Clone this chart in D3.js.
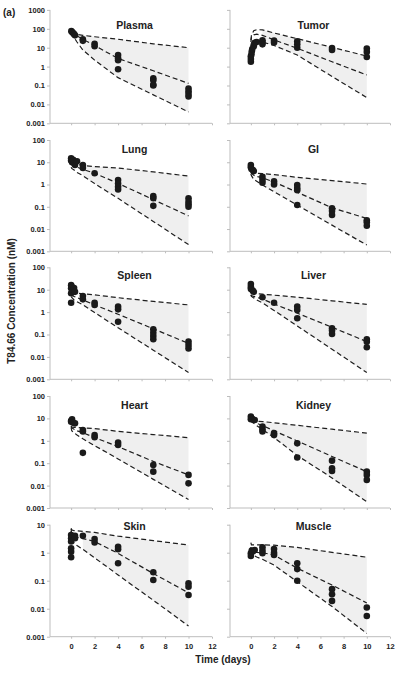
<!DOCTYPE html>
<html><head><meta charset="utf-8">
<script src="https://cdn.jsdelivr.net/npm/d3@7"></script>
<style>body{margin:0;background:#fff}svg{display:block}text{font-family:"Liberation Sans",Arial,sans-serif;font-weight:bold;fill:#222}</style>
</head><body><div id="chart"></div>
<script>
// ---------- DATA ----------
const tissues = ["Plasma","Tumor","Lung","GI","Spleen","Liver","Heart","Kidney","Skin","Muscle"];
const xTicks = [0,2,4,6,8,10,12];
const yTickLabelsRow1 = ["1000","100","10","1","0.1","0.01","0.001"];
const yTickLabelsMid = ["100","10","1","0.1","0.01","0.001"];
const yTickLabelsRow5 = ["10","1","0.1","0.01","0.001"];
const curveTimes = [0, 0.05, 0.25, 0.5, 1, 2, 4, 7, 10];

const plasmaUpper  = [70, 65, 55, 50, 45, 38, 28, 16, 10];
const plasmaMedian = [70, 65, 52, 42, 28, 13, 2.7, 0.6, 0.13];
const plasmaLower  = [65, 55, 35, 20, 7.6, 2.2, 0.26, 0.032, 0.004];
const plasmaObs = [[0.02,75],[0.08,68],[0.17,60],[0.25,52],[0.33,45],[1,28],[1,23],[2,16],[2,12],[4,4.1],[4,2.75],[4,2.2],[4,0.72],[7,0.24],[7,0.19],[7,0.11],[7,0.1],[10,0.07],[10,0.05],[10,0.036],[10,0.026]];

const tumorUpper  = [25, 45, 80, 90, 88, 60, 30, 10.5, 3.6];
const tumorMedian = [20, 35, 48, 52, 45, 26, 9.3, 1.8, 0.36];
const tumorLower  = [12, 18, 22, 22, 20, 13, 4.1, 0.3, 0.023];
const tumorObs = [[0,1.8],[0,2.5],[0,3.5],[0.05,4.5],[0.08,6.5],[0.12,8.5],[0.25,12],[0.33,18],[0.5,20],[1,25],[1,20],[1,15],[2,24],[2,19],[4,22],[4,15],[4,10],[7,9.5],[7,7.5],[10,9],[10,6],[10,3.2]];

const lungUpper  = [9, 8.8, 8.4, 8, 7.2, 6.4, 5.5, 3.7, 2.4];
const lungMedian = [9, 8.5, 7.2, 6, 4.8, 3.2, 1.13, 0.21, 0.039];
const lungLower  = [6, 5.3, 4.5, 3.5, 2.5, 1.1, 0.24, 0.022, 0.002];
const lungObs = [[0,15],[0,12],[0.08,10],[0.17,13],[0.25,9],[0.33,7.5],[0.5,11],[1,7.5],[1,5.5],[2,3.2],[4,1.6],[4,1.1],[4,0.8],[4,0.6],[7,0.3],[7,0.24],[7,0.11],[10,0.24],[10,0.17],[10,0.13],[10,0.1]];

const giUpper  = [4, 3.5, 3.3, 3.2, 3.1, 2.8, 2.1, 1.5, 1.05];
const giMedian = [3.5, 3.2, 2.6, 2.3, 2.0, 1.3, 0.45, 0.09, 0.03];
const giLower  = [3, 2.5, 1.7, 1.4, 0.95, 0.48, 0.12, 0.015, 0.0019];
const giObs = [[0,7.5],[0,6],[0.05,5],[0.17,4.5],[0.25,4],[1,2.2],[1,1.6],[1,1.2],[2,1.4],[2,1.0],[4,0.95],[4,0.7],[4,0.56],[4,0.12],[7,0.085],[7,0.065],[7,0.043],[10,0.025],[10,0.02],[10,0.014]];

const spleenUpper  = [7.5, 7.2, 7, 6.9, 6.6, 5.9, 4.4, 3.0, 2.1];
const spleenMedian = [6, 5.5, 5, 4.4, 3.5, 2.1, 0.8, 0.18, 0.04];
const spleenLower  = [5, 4.5, 3.5, 2.9, 2.1, 0.95, 0.2, 0.02, 0.002];
const spleenObs = [[0,16],[0,11.5],[0,6.9],[0,2.6],[0.08,13],[0.17,9.7],[0.25,12],[0.33,8],[1,5.2],[1,3.7],[2,2.6],[2,2.1],[4,1.75],[4,1.33],[4,0.37],[7,0.17],[7,0.12],[7,0.086],[7,0.061],[10,0.048],[10,0.034],[10,0.024]];

const liverUpper  = [7.2, 7, 6.9, 6.7, 6.3, 5.7, 4.6, 3.2, 2.2];
const liverMedian = [6, 5.5, 5, 4.6, 3.8, 2.3, 0.9, 0.21, 0.048];
const liverLower  = [5.8, 5, 4.3, 3.5, 2.6, 1.18, 0.24, 0.022, 0.002];
const liverObs = [[0,18],[0,13.6],[0,11],[0.05,10.4],[0.17,9],[0.25,8],[1,4.6],[2,2.6],[4,1.75],[4,1.24],[4,0.53],[7,0.19],[7,0.15],[7,0.105],[10,0.061],[10,0.048],[10,0.027]];

const heartUpper  = [4.5, 4.2, 4, 3.9, 3.8, 3.5, 2.65, 1.9, 1.38];
const heartMedian = [4.5, 3.8, 3.3, 2.8, 2.3, 1.4, 0.55, 0.12, 0.03];
const heartLower  = [4, 2.8, 2.3, 1.8, 1.23, 0.61, 0.155, 0.019, 0.0024];
const heartObs = [[0,7.9],[0,7.1],[0.08,9],[0.17,6.4],[0.33,6],[1,3],[1,2.6],[1,0.29],[2,1.8],[2,1.43],[4,0.83],[4,0.65],[7,0.083],[7,0.042],[10,0.03],[10,0.0126]];

const kidneyUpper  = [8.5, 8, 7.8, 7.5, 7.2, 6.4, 4.9, 3.3, 2.2];
const kidneyMedian = [8.5, 8, 7, 6, 4.8, 2.8, 0.98, 0.2, 0.042];
const kidneyLower  = [8, 7, 6, 4.8, 3.2, 1.4, 0.22, 0.022, 0.0019];
const kidneyObs = [[0,12],[0,9.1],[0.05,10],[0.17,9.1],[0.33,8.5],[1,4.3],[1,3.3],[1,2.6],[2,2.2],[2,1.8],[4,0.77],[4,0.18],[7,0.13],[7,0.059],[7,0.045],[10,0.042],[10,0.03],[10,0.018]];

const skinUpper  = [7.5, 6.5, 6.1, 6.0, 5.8, 5.3, 3.9, 2.7, 1.88];
const skinMedian = [7, 4.5, 4, 3.6, 3.2, 2.5, 0.95, 0.18, 0.037];
const skinLower  = [6, 3.2, 2.2, 1.8, 1.32, 0.66, 0.16, 0.02, 0.0024];
const skinObs = [[0,4.3],[0,3.3],[0,2.5],[0,1.43],[0,1.09],[0,0.69],[0.33,4],[0.33,3.3],[1,4],[2,3.1],[2,2.3],[4,1.63],[4,1.32],[4,0.42],[7,0.2],[7,0.106],[10,0.08],[10,0.061],[10,0.031]];

const muscleUpper  = [2.3, 1.9, 1.9, 1.9, 1.9, 1.85, 1.55, 1.03, 0.69];
const muscleMedian = [1.6, 1.1, 1.05, 1.02, 1.0, 0.83, 0.28, 0.07, 0.016];
const muscleLower  = [1.2, 0.85, 0.8, 0.7, 0.58, 0.36, 0.092, 0.012, 0.0013];
const muscleObs = [[0,0.95],[0,0.76],[0.08,1.2],[0.17,1.1],[0.33,1.25],[1,1.55],[1,1.2],[1,0.95],[2,1.35],[2,1.0],[2,0.83],[4,0.42],[4,0.26],[4,0.1],[7,0.05],[7,0.033],[7,0.019],[10,0.011],[10,0.0055]];

// ---------- LAYOUT ----------
const W = 400, H = 673;
const panels = [
  {name:"Plasma", up:plasmaUpper, med:plasmaMedian, lo:plasmaLower, obs:plasmaObs},
  {name:"Tumor", up:tumorUpper, med:tumorMedian, lo:tumorLower, obs:tumorObs},
  {name:"Lung", up:lungUpper, med:lungMedian, lo:lungLower, obs:lungObs},
  {name:"GI", up:giUpper, med:giMedian, lo:giLower, obs:giObs},
  {name:"Spleen", up:spleenUpper, med:spleenMedian, lo:spleenLower, obs:spleenObs},
  {name:"Liver", up:liverUpper, med:liverMedian, lo:liverLower, obs:liverObs},
  {name:"Heart", up:heartUpper, med:heartMedian, lo:heartLower, obs:heartObs},
  {name:"Kidney", up:kidneyUpper, med:kidneyMedian, lo:kidneyLower, obs:kidneyObs},
  {name:"Skin", up:skinUpper, med:skinMedian, lo:skinLower, obs:skinObs},
  {name:"Muscle", up:muscleUpper, med:muscleMedian, lo:muscleLower, obs:muscleObs}
];
const rows = [
  {top:9.9, bottom:123.3, max:1000, labels:yTickLabelsRow1, titleDy:19},
  {top:140, bottom:251.3, max:100, labels:yTickLabelsMid, titleDy:13},
  {top:267.3, bottom:379.3, max:100, labels:yTickLabelsMid, titleDy:12},
  {top:396, bottom:508, max:100, labels:yTickLabelsMid, titleDy:13},
  {top:524.7, bottom:636.7, max:10, labels:yTickLabelsRow5, titleDy:5}
];
const cols = [{left:50, right:212}, {left:230, right:390}];
const axisColor = "#bdbdbd";

const svg = d3.select("#chart").append("svg").attr("width", W).attr("height", H);

panels.forEach((p, i) => {
  const r = rows[Math.floor(i/2)], c = cols[i%2];
  const x = d3.scaleLinear().domain([-1.8, 12]).range([c.left, c.right]);
  const y = d3.scaleLog().domain([0.001, r.max]).range([r.bottom, r.top]);
  const g = svg.append("g");

  // shaded band between upper and lower from day 1
  const band = curveTimes.map((t, k) => ({t, u:p.up[k], l:p.lo[k]})).filter(d => d.t >= 1);
  g.append("path").datum(band)
    .attr("d", d3.area().x(d => x(d.t)).y0(d => y(d.l)).y1(d => y(d.u)))
    .attr("fill", "#efefef");

  // axes
  const yAxis = d3.axisLeft(y).tickValues(r.labels.map(Number)).tickSize(3)
    .tickFormat((d, k) => (i%2===0 ? r.labels[k] : ""));
  const ya = g.append("g").attr("transform", `translate(${c.left},0)`).call(yAxis);
  ya.select(".domain").attr("stroke", axisColor).attr("d", `M-0,${r.top}V${r.bottom}`);
  ya.selectAll(".tick line").attr("stroke", axisColor);
  ya.selectAll(".tick text").attr("x", -5).style("font-size", "7.5px").style("font-weight", "bold").attr("fill", "#222");

  const xAxis = d3.axisBottom(x).tickValues(xTicks).tickSize(2)
    .tickFormat(d => (i >= 8 ? d : ""));
  const xa = g.append("g").attr("transform", `translate(0,${r.bottom})`).call(xAxis);
  xa.select(".domain").attr("stroke", axisColor).attr("d", `M${c.left},0H${c.right}`);
  xa.selectAll(".tick line").attr("stroke", axisColor);
  xa.selectAll(".tick text").attr("y", 7).style("font-size", "7.5px").style("font-weight", "bold").attr("fill", "#222");

  // dashed curves
  const line = d3.line().x(d => x(d[0])).y(d => y(d[1]));
  [p.up, p.med, p.lo].forEach(arr => {
    g.append("path").datum(curveTimes.map((t, k) => [t, arr[k]]))
      .attr("d", line).attr("fill", "none").attr("stroke", "#1e1e1e")
      .attr("stroke-width", 1.2).attr("stroke-dasharray", "5,3");
  });

  // observations
  g.selectAll("circle.obs").data(p.obs).enter().append("circle")
    .attr("class", "obs").attr("cx", d => x(d[0])).attr("cy", d => y(d[1]))
    .attr("r", 3.3).attr("fill", "#1a1a1a");

  // title
  g.append("text").attr("x", x(5.4)).attr("y", r.top + r.titleDy)
    .attr("text-anchor", "middle").style("font-size", "10.5px").text(p.name);
});

// global labels
svg.append("text").attr("x", 3).attr("y", 16).style("font-size", "10px").text("(a)");
svg.append("text").attr("transform", "translate(15,301) rotate(-90)")
  .attr("text-anchor", "middle").style("font-size", "10px").text("T84.66 Concentration (nM)");
svg.append("text").attr("x", 223).attr("y", 663)
  .attr("text-anchor", "middle").style("font-size", "10px").text("Time (days)");
</script></body></html>
